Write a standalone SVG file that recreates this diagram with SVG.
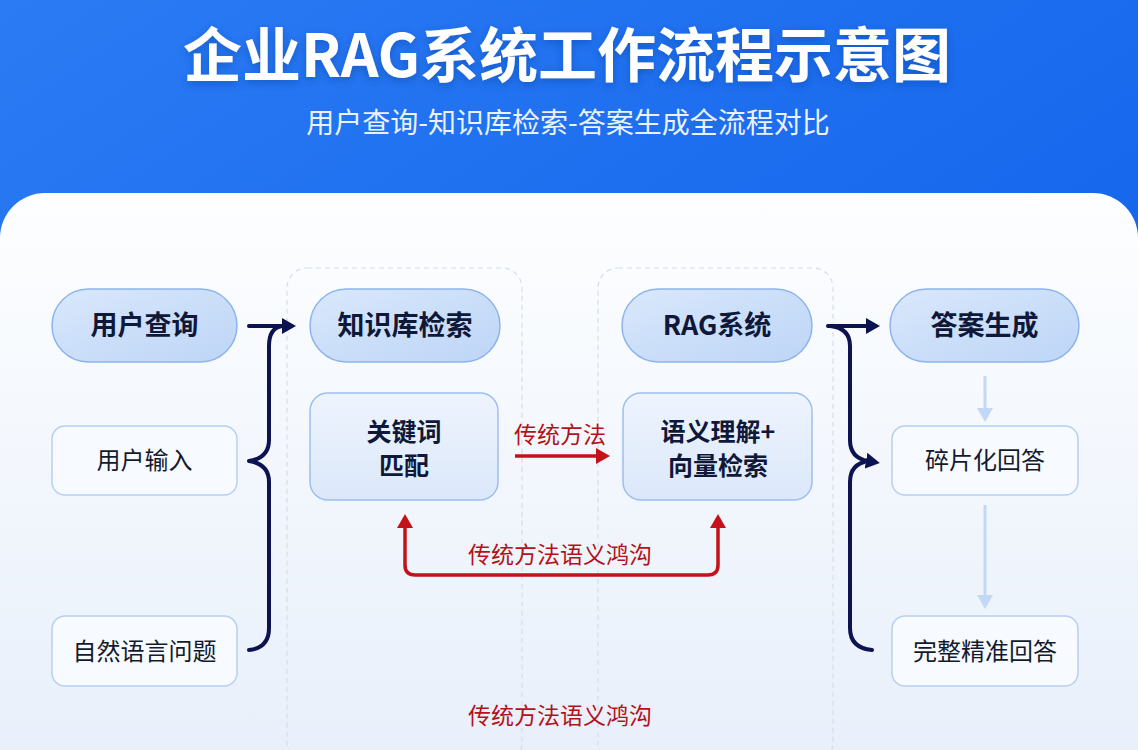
<svg xmlns="http://www.w3.org/2000/svg" width="1138" height="750" viewBox="0 0 1138 750">
<defs>
<linearGradient id="hdr" x1="0" y1="0" x2="1" y2="1">
<stop offset="0" stop-color="#2b7bf4"/>
<stop offset="1" stop-color="#0a5ce8"/>
</linearGradient>
<linearGradient id="panel" x1="0" y1="0" x2="0" y2="1">
<stop offset="0" stop-color="#fdfeff"/>
<stop offset="1" stop-color="#e6eefa"/>
</linearGradient>
<linearGradient id="pill" x1="0" y1="0" x2="1" y2="1">
<stop offset="0" stop-color="#d9e8fc"/>
<stop offset="1" stop-color="#bdd5f6"/>
</linearGradient>
<linearGradient id="mid" x1="0" y1="0" x2="0" y2="1">
<stop offset="0" stop-color="#eef4fd"/>
<stop offset="1" stop-color="#dbe8fa"/>
</linearGradient>
<filter id="ts" x="-10%" y="-30%" width="120%" height="160%">
<feDropShadow dx="0" dy="3" stdDeviation="4" flood-color="#0a3a9a" flood-opacity="0.45"/>
</filter>
<marker id="navy" viewBox="0 0 14 16" refX="2" refY="8" markerWidth="14" markerHeight="16" markerUnits="userSpaceOnUse" orient="auto">
<path d="M0 0 L14 8 L0 16 Z" fill="#0d1250"/>
</marker>
<marker id="red" viewBox="0 0 14 16" refX="2" refY="8" markerWidth="14" markerHeight="16" markerUnits="userSpaceOnUse" orient="auto-start-reverse">
<path d="M0 0 L14 8 L0 16 Z" fill="#c4121a"/>
</marker>
<marker id="light" viewBox="0 0 14 16" refX="2" refY="8" markerWidth="14" markerHeight="16" markerUnits="userSpaceOnUse" orient="auto">
<path d="M0 0 L14 8 L0 16 Z" fill="#c3d8f5"/>
</marker>
</defs>
<style>
.cjk{font-family:"Noto Sans CJK SC","Noto Sans",sans-serif;}
.pill{fill:url(#pill);stroke:#8db4ec;stroke-width:1.5;}
.box{fill:#f7faff;stroke:#b7cff2;stroke-width:1.5;}
.midbox{fill:url(#mid);stroke:#9dbff0;stroke-width:1.5;}
.ptxt{font-size:27px;font-weight:700;fill:#0f1838;}
.btxt{font-size:24px;font-weight:400;fill:#141a2e;}
.mtxt{font-size:25px;font-weight:700;fill:#0f1838;}
.rtxt{font-size:23px;font-weight:400;fill:#b3121a;}
.dash{fill:none;stroke:#d3deec;stroke-width:1.2;stroke-dasharray:5 4;}
.navy{fill:none;stroke:#0d1250;stroke-width:4;stroke-linecap:round;stroke-linejoin:round;}
.redl{fill:none;stroke:#c4121a;stroke-width:3.5;stroke-linejoin:round;}
.lightl{fill:none;stroke:#c3d8f5;stroke-width:3;}
</style>
<rect x="0" y="0" width="1138" height="750" fill="url(#hdr)"/>
<rect x="0" y="193" width="1138" height="620" rx="45" fill="url(#panel)"/>
<text class="cjk" x="567" y="77" text-anchor="middle" font-size="59" font-weight="700" fill="#ffffff" filter="url(#ts)">企业RAG系统工作流程示意图</text>
<text class="cjk" x="568" y="133" text-anchor="middle" font-size="28" fill="#eaf2ff">用户查询-知识库检索-答案生成全流程对比</text>

<g id="containers">
<rect class="dash" x="287" y="268" width="235" height="495" rx="20"/>
<rect class="dash" x="598" y="268" width="235" height="495" rx="20"/>
</g>

<g id="n-query"><rect class="pill" x="52" y="289" width="185" height="73" rx="36.5"/><text class="cjk ptxt" x="144.5" y="335" text-anchor="middle">用户查询</text></g>
<g id="n-input"><rect class="box" x="52" y="426" width="185" height="69" rx="13"/><text class="cjk btxt" x="144.5" y="469" text-anchor="middle">用户输入</text></g>
<g id="n-nlq"><rect class="box" x="52" y="616" width="185" height="70" rx="13"/><text class="cjk btxt" x="144.5" y="660" text-anchor="middle">自然语言问题</text></g>

<g id="n-kb"><rect class="pill" x="310" y="289" width="190" height="73" rx="36.5"/><text class="cjk ptxt" x="405" y="335" text-anchor="middle">知识库检索</text></g>
<g id="n-kw"><rect class="midbox" x="310" y="393" width="188" height="107" rx="18"/><text class="cjk mtxt" x="404" y="441" text-anchor="middle">关键词</text><text class="cjk mtxt" x="404" y="475" text-anchor="middle">匹配</text></g>

<g id="n-rag"><rect class="pill" x="622" y="289" width="190" height="73" rx="36.5"/><text class="cjk ptxt" x="717" y="335" text-anchor="middle">RAG系统</text></g>
<g id="n-sem"><rect class="midbox" x="623" y="393" width="189" height="107" rx="18"/><text class="cjk mtxt" x="718" y="441" text-anchor="middle">语义理解+</text><text class="cjk mtxt" x="718" y="475" text-anchor="middle">向量检索</text></g>

<g id="n-ans"><rect class="pill" x="890" y="289" width="189" height="73" rx="36.5"/><text class="cjk ptxt" x="984.5" y="335" text-anchor="middle">答案生成</text></g>
<g id="n-frag"><rect class="box" x="892" y="426" width="186" height="69" rx="13"/><text class="cjk btxt" x="985" y="469" text-anchor="middle">碎片化回答</text></g>
<g id="n-full"><rect class="box" x="892" y="616" width="186" height="70" rx="13"/><text class="cjk btxt" x="985" y="660" text-anchor="middle">完整精准回答</text></g>

<g id="connectors">
<path class="navy" d="M249 326 L284 326" marker-end="url(#navy)"/>
<path class="navy" d="M282 326 Q269 328 269 346 L269 440 Q269 458 249 461 Q269 464 269 482 L269 628 Q269 648 249 650"/>
<path class="navy" d="M828 326 L868 326" marker-end="url(#navy)"/>
<path class="navy" d="M830 326 Q850 328 850 346 L850 440 Q850 458 868 461" marker-end="url(#navy)"/>
<path class="navy" d="M868 461 Q850 464 850 482 L850 628 Q850 648 872 650"/>
<path class="lightl" d="M985 376 L985 410" marker-end="url(#light)"/>
<path class="lightl" d="M985 505 L985 597" marker-end="url(#light)"/>
<path class="redl" d="M515 456 L598 456" marker-end="url(#red)"/>
<path class="redl" d="M405 526 L405 565 Q405 575 415 575 L708 575 Q718 575 718 565 L718 526" marker-start="url(#red)" marker-end="url(#red)"/>
<text class="cjk rtxt" x="560" y="443" text-anchor="middle">传统方法</text>
<text class="cjk rtxt" x="560" y="563" text-anchor="middle">传统方法语义鸿沟</text>
<text class="cjk rtxt" x="560" y="724" text-anchor="middle">传统方法语义鸿沟</text>
</g>
</svg>
